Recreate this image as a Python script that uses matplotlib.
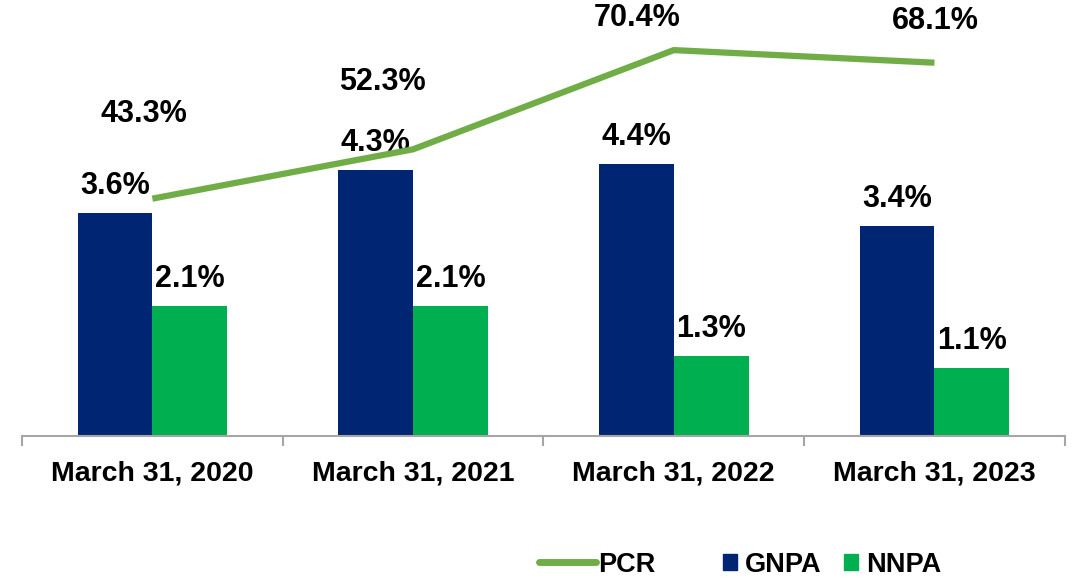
import numpy as np
import matplotlib
matplotlib.use("Agg")
import matplotlib.pyplot as plt
from matplotlib.lines import Line2D
from matplotlib.patches import Patch

plt.rcParams['font.family'] = ['Liberation Sans', 'DejaVu Sans']
plt.rcParams['font.weight'] = 'bold'

# asset quality figures (%)
periods = ["March 31, 2020", "March 31, 2021", "March 31, 2022", "March 31, 2023"]
gnpa = [3.6, 4.3, 4.4, 3.4]
nnpa = [2.1, 2.1, 1.3, 1.1]
pcr = [43.3, 52.3, 70.4, 68.1]

navy = "#002673"
green = "#00b050"
olive = "#70ad47"

# where each PCR label sits relative to its point (pixels)
pcr_offsets = [(-8, 85), (-31, 67), (-37, 32), (1, 42)]

fig = plt.figure(figsize=(10.84, 5.8), dpi=100)
ax = fig.add_axes([0.0203, 0.2483, 0.962, 0.7466])
ax2 = ax.twinx()

x = np.arange(len(periods))
w = 0.287
b1 = ax.bar(x - w / 2, gnpa, w, color=navy)
b2 = ax.bar(x + w / 2, nnpa, w, color=green)

for rect, v in zip(b1, gnpa):
    ax.annotate(f"{v:.1f}%", (rect.get_x() + rect.get_width() / 2, v),
                xytext=(0, 12), textcoords="offset pixels",
                ha="center", va="bottom", fontsize=22, fontweight="bold")
for rect, v in zip(b2, nnpa):
    ax.annotate(f"{v:.1f}%", (rect.get_x() + rect.get_width() / 2, v),
                xytext=(0, 12), textcoords="offset pixels",
                ha="center", va="bottom", fontsize=22, fontweight="bold")

ax2.plot(x, pcr, color=olive, lw=4.5, solid_capstyle="butt", zorder=5)
for xi, v, (dx, dy) in zip(x, pcr, pcr_offsets):
    ax2.annotate(f"{v:.1f}%", (xi, v), xytext=(dx, dy), textcoords="offset pixels",
                 ha="center", va="center", fontsize=22, fontweight="bold")

ax.set_ylim(0, 7)
ax2.set_ylim(0, 79)
ax.set_xlim(-0.5, len(periods) - 0.5)

for a in (ax, ax2):
    for s in ("top", "right", "left"):
        a.spines[s].set_visible(False)
    a.set_yticks([])
ax2.spines["bottom"].set_visible(False)
ax.spines["bottom"].set_color("#a6a6a6")
ax.spines["bottom"].set_linewidth(1.5)

ax.set_xticks(x)
ax.set_xticklabels(periods, fontsize=20.5, fontweight="bold")
ax.tick_params(axis="x", which="major", length=0, pad=18)
ax.set_xticks(np.arange(-0.5, len(periods)), minor=True)
ax.tick_params(axis="x", which="minor", length=7, width=1.5, color="#a6a6a6")

leg1 = fig.legend([Line2D([], [], color=olive, lw=5, solid_capstyle="round")], ["PCR"],
                  loc="center left", bbox_to_anchor=(0.497, 0.026), frameon=False,
                  borderpad=0, borderaxespad=0, handlelength=2.1, handletextpad=0.1,
                  prop={"size": 19.5, "weight": "bold"})
leg2 = fig.legend([Patch(color=navy), Patch(color=green)], ["GNPA", "NNPA"],
                  loc="center left", bbox_to_anchor=(0.667, 0.026), frameon=False,
                  ncol=2, borderpad=0, borderaxespad=0, handlelength=0.52,
                  handleheight=0.52, handletextpad=0.3, columnspacing=0.8,
                  prop={"size": 19.5, "weight": "bold"})

fig.savefig("out.png", dpi=100)
